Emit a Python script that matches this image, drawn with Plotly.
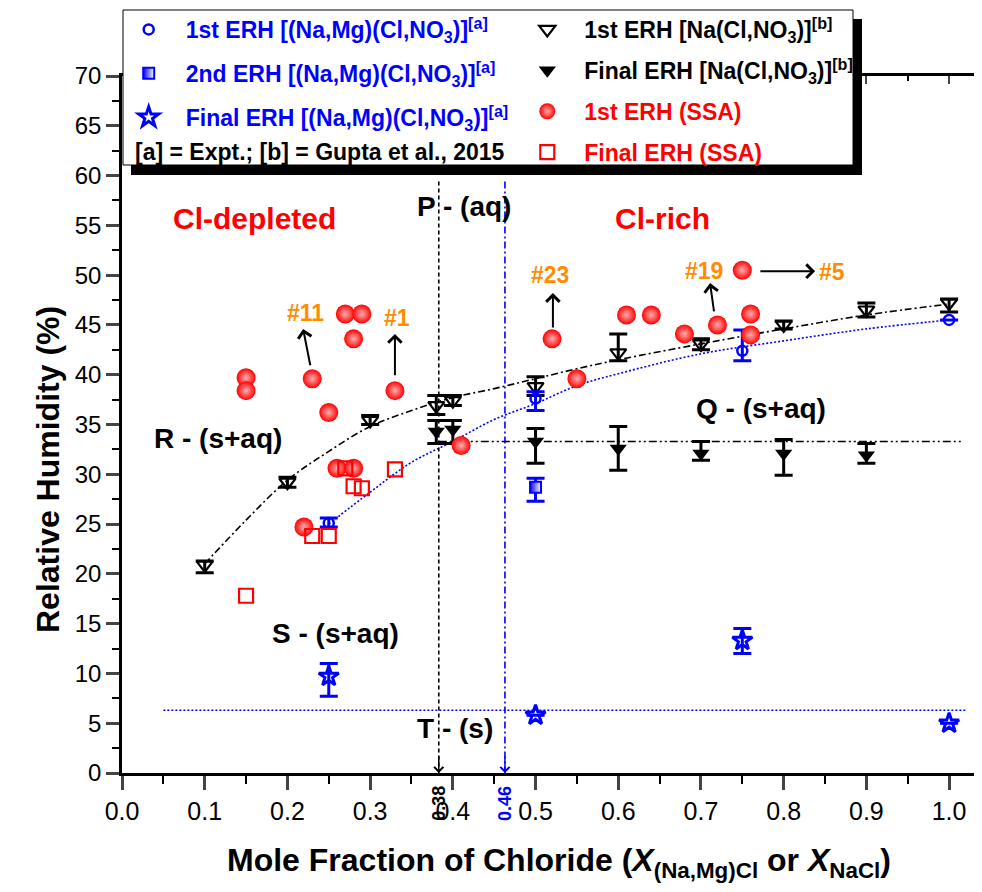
import plotly.graph_objects as go

# ---------------- data ----------------
# (Na,Mg)(Cl,NO3) experimental [a]  (blue)
nm_first_x = [0.25, 0.50, 0.75, 1.00]
nm_first_y = [25.1, 37.6, 42.4, 45.5]
nm_first_ep = [0.5, 0.7, 2.1, None]
nm_first_em = [0.4, 1.2, 1.0, None]

nm_second_x = [0.50]
nm_second_y = [28.7]
nm_second_ep = [0.9]
nm_second_em = [1.4]

nm_final_x = [0.25, 0.50, 0.75, 1.00]
nm_final_y = [9.7, 5.8, 13.3, 5.0]
nm_final_ep = [1.3, None, 1.2, None]
nm_final_em = [2.0, None, 1.3, None]

# Na(Cl,NO3), Gupta et al. 2015 [b]  (black)
na_first_x = [0.10, 0.20, 0.30, 0.38, 0.40, 0.50, 0.60, 0.70, 0.80, 0.90, 1.00]
na_first_y = [20.9, 29.2, 35.4, 36.9, 37.4, 38.8, 42.2, 43.1, 45.0, 46.5, 47.2]
na_first_ep = [0.4, 0.5, 0.5, 1.0, 0.5, 1.0, 1.9, 0.5, 0.4, 0.7, 0.4]
na_first_em = [0.8, 0.5, 0.4, 0.9, 0.5, 0.9, 0.8, 0.6, 0.4, 0.7, 0.9]

na_final_x = [0.38, 0.40, 0.50, 0.60, 0.70, 0.80, 0.90]
na_final_y = [34.3, 34.5, 33.3, 32.6, 32.1, 32.1, 31.9]
na_final_ep = [1.1, 0.9, 1.3, 2.2, 1.2, 1.4, 1.2]
na_final_em = [1.2, 1.4, 2.2, 2.2, 0.7, 2.2, 0.8]

# SSA particles (red)
ssa_first_x = [0.15, 0.15, 0.22, 0.23, 0.25, 0.26, 0.27, 0.28, 0.28, 0.29, 0.33,
               0.41, 0.52, 0.55, 0.61, 0.64, 0.68, 0.72, 0.75, 0.76, 0.76]
ssa_first_y = [39.7, 38.4, 24.7, 39.6, 36.2, 30.6, 46.1, 43.6, 30.6, 46.1, 38.4,
               32.9, 43.6, 39.6, 46.0, 46.0, 44.1, 45.0, 50.5, 46.1, 44.0]
ssa_final_x = [0.15, 0.23, 0.25, 0.27, 0.28, 0.29, 0.33]
ssa_final_y = [17.8, 23.8, 23.8, 30.6, 28.8, 28.6, 30.5]

# guide curves
na_fit_x = [0.10, 0.15, 0.20, 0.25, 0.30, 0.35, 0.40, 0.45, 0.50, 0.55, 0.60, 0.70, 0.80, 0.90, 1.00]
na_fit_y = [21.0, 25.4, 29.4, 32.3, 34.8, 36.4, 37.7, 38.6, 39.6, 40.6, 41.5, 43.1, 44.6, 46.0, 47.1]
nm_fit_x = [0.25, 0.30, 0.35, 0.40, 0.45, 0.50, 0.55, 0.60, 0.70, 0.80, 0.90, 1.00]
nm_fit_y = [25.0, 28.2, 31.2, 33.3, 35.5, 37.1, 38.9, 40.1, 42.1, 43.4, 44.6, 45.5]

# phase-boundary lines
p_line_x = [0.383, 0.383]
p_line_y = [59.4, 0.0]
t_line_x = [0.463, 0.463]
t_line_y = [59.4, 0.0]
q_line_x = [0.383, 1.017]
q_line_y = [33.3, 33.3]
s_line_x = [0.05, 1.02]
s_line_y = [6.3, 6.3]

x_tick_vals = [0.0, 0.1, 0.2, 0.3, 0.4, 0.5, 0.6, 0.7, 0.8, 0.9, 1.0]
y_tick_vals = [0, 5, 10, 15, 20, 25, 30, 35, 40, 45, 50, 55, 60, 65, 70]

# ---------------- styling ----------------
FONT = "Liberation Sans, Arial, sans-serif"
NARROW = "Liberation Sans Narrow, Arial Narrow, Liberation Sans, sans-serif"
BLUE = "#0000ff"
RED = "#ff0000"
ORANGE = "#ff8c00"

fig = go.Figure()

# guide curves & lines
fig.add_trace(go.Scatter(x=na_fit_x, y=na_fit_y, mode="lines", line=dict(color="black", width=1.6, dash="7px,3px,2px,3px", shape="spline"), showlegend=False, hoverinfo="skip"))
fig.add_trace(go.Scatter(x=nm_fit_x, y=nm_fit_y, mode="lines", line=dict(color=BLUE, width=1.6, dash="2px,2px", shape="spline"), showlegend=False, hoverinfo="skip"))
fig.add_trace(go.Scatter(x=q_line_x, y=q_line_y, mode="lines", line=dict(color="black", width=1.6, dash="8px,3px,2px,3px,2px,3px"), showlegend=False, hoverinfo="skip"))
fig.add_trace(go.Scatter(x=s_line_x, y=s_line_y, mode="lines", line=dict(color=BLUE, width=1.6, dash="2px,2px"), showlegend=False, hoverinfo="skip"))
fig.add_trace(go.Scatter(x=p_line_x, y=p_line_y, mode="lines", line=dict(color="black", width=1.6, dash="4px,3px"), showlegend=False, hoverinfo="skip"))
fig.add_trace(go.Scatter(x=t_line_x, y=t_line_y, mode="lines", line=dict(color=BLUE, width=1.6, dash="7px,3px,2px,3px"), showlegend=False, hoverinfo="skip"))

def eb(color, plus, minus):
    return dict(type="data", array=plus, arrayminus=minus, symmetric=False,
                color=color, thickness=3, width=9)

# black (Gupta) series
fig.add_trace(go.Scatter(
    x=na_first_x, y=na_first_y, mode="markers",
    name="1st ERH [Na(Cl,NO<sub>3</sub>)]<sup>[b]</sup>",
    marker=dict(symbol="triangle-down-open", size=14, color="black", line=dict(width=2.2, color="black")),
    error_y=eb("black", na_first_ep, na_first_em), legend="legend2", legendgroup="g4"))
fig.add_trace(go.Scatter(
    x=na_final_x, y=na_final_y, mode="markers",
    name="Final ERH [Na(Cl,NO<sub>3</sub>)]<sup>[b]</sup>",
    marker=dict(symbol="triangle-down", size=15, color="black"),
    error_y=eb("black", na_final_ep, na_final_em), legend="legend2", legendgroup="g5"))

# blue (experiment) series
fig.add_trace(go.Scatter(
    x=nm_first_x, y=nm_first_y, mode="markers",
    name="1st ERH [(Na,Mg)(Cl,NO<sub>3</sub>)]<sup>[a]</sup>",
    marker=dict(symbol="circle-open", size=10, color=BLUE, line=dict(width=2.5, color=BLUE)),
    error_y=eb(BLUE, nm_first_ep, nm_first_em), legend="legend", legendgroup="g1"))
fig.add_trace(go.Scatter(
    x=nm_second_x, y=nm_second_y, mode="markers",
    name="2nd ERH [(Na,Mg)(Cl,NO<sub>3</sub>)]<sup>[a]</sup>",
    marker=dict(symbol="square", size=11, color=BLUE, gradient=dict(type="horizontal", color="white"),
                line=dict(width=2, color=BLUE)),
    error_y=eb(BLUE, nm_second_ep, nm_second_em), legend="legend", legendgroup="g2"))
fig.add_trace(go.Scatter(
    x=nm_final_x, y=nm_final_y, mode="markers",
    name="Final ERH [(Na,Mg)(Cl,NO<sub>3</sub>)]<sup>[a]</sup>",
    marker=dict(symbol="star-open", size=15, color=BLUE, line=dict(width=3, color=BLUE)),
    error_y=eb(BLUE, nm_final_ep, nm_final_em), legend="legend", legendgroup="g3"))

# red (SSA) series
fig.add_trace(go.Scatter(
    x=ssa_first_x, y=ssa_first_y, mode="markers",
    name="<span style='color:#ff0000'>1st ERH (SSA)</span>",
    marker=dict(symbol="circle", size=19, color=RED, gradient=dict(type="radial", color="#ffb0b0"),
                line=dict(width=0)),
    legend="legend2", legendgroup="g6"))
fig.add_trace(go.Scatter(
    x=ssa_final_x, y=ssa_final_y, mode="markers",
    name="<span style='color:#ff0000'>Final ERH (SSA)</span>",
    marker=dict(symbol="square-open", size=14, color=RED, line=dict(width=2.2, color=RED)),
    legend="legend2", legendgroup="g7"))

# dummy trace to host the mirrored (inward-tick) top/right axes
fig.add_trace(go.Scatter(x=[None], y=[None], xaxis="x2", yaxis="y2", showlegend=False, hoverinfo="skip"))

XR = [0, 1.041]
YR = [0, 70]

fig.update_layout(
    width=982, height=892,
    margin=dict(l=114, r=7, t=68, b=127, autoexpand=False),
    plot_bgcolor="white", paper_bgcolor="white",
    font=dict(family=FONT, color="black"),
    xaxis=dict(range=XR, tickvals=x_tick_vals, tickformat=".1f", ticks="outside", ticklen=14, tickwidth=2.5,
               showline=True, linewidth=2.5, linecolor="black", showgrid=False, zeroline=False,
               tickfont=dict(family=NARROW, size=25, color="black"),
               minor=dict(dtick=0.05, tick0=0, ticks="outside", ticklen=8, tickwidth=2, tickcolor="black")),
    yaxis=dict(range=YR, tickvals=y_tick_vals, ticks="outside", ticklen=13, tickwidth=2.5,
               showline=True, linewidth=2.5, linecolor="black", showgrid=False, zeroline=False,
               tickfont=dict(family=FONT, size=24, color="black"),
               minor=dict(dtick=2.5, tick0=0, ticks="outside", ticklen=7, tickwidth=2, tickcolor="black")),
    xaxis2=dict(range=XR, overlaying="x", side="top", anchor="y2", tickvals=x_tick_vals, ticks="inside",
                ticklen=8, tickwidth=2, showticklabels=False, showline=True, linewidth=2.5, linecolor="black",
                showgrid=False, zeroline=False,
                minor=dict(dtick=0.05, tick0=0, ticks="inside", ticklen=5, tickwidth=2, tickcolor="black")),
    yaxis2=dict(range=YR, overlaying="y", side="right", anchor="x2", tickvals=y_tick_vals, ticks="inside",
                ticklen=8, tickwidth=2, showticklabels=False, showline=True, linewidth=2.5, linecolor="black",
                showgrid=False, zeroline=False,
                minor=dict(dtick=2.5, tick0=0, ticks="inside", ticklen=5, tickwidth=2, tickcolor="black")),
    legend=dict(xref="container", yref="container", x=0.1056, y=1.0, xanchor="left", yanchor="top",
                bgcolor="rgba(0,0,0,0)", borderwidth=0,
                font=dict(family=FONT, size=23, color=BLUE, weight="bold"), itemwidth=64,
                tracegroupgap=11, itemclick=False, itemdoubleclick=False),
    legend2=dict(xref="container", yref="container", x=0.5115, y=1.0, xanchor="left", yanchor="top",
                 bgcolor="rgba(0,0,0,0)", borderwidth=0,
                 font=dict(family=FONT, size=23, color="black", weight="bold"), itemwidth=64,
                 tracegroupgap=8, itemclick=False, itemdoubleclick=False),
    showlegend=True,
)

# legend frame with drop shadow (positions given in screen pixels of the picture)
def px2paper_x(px):
    return (px - 122) / 861.0

def px2paper_y(py):
    return (773 - py) / 697.0

fig.add_shape(type="rect", xref="paper", yref="paper", layer="above",
              x0=px2paper_x(131), x1=px2paper_x(862), y0=px2paper_y(175), y1=px2paper_y(19),
              fillcolor="black", line=dict(width=0))
fig.add_shape(type="rect", xref="paper", yref="paper", layer="above",
              x0=px2paper_x(123), x1=px2paper_x(853), y0=px2paper_y(165), y1=px2paper_y(10),
              fillcolor="white", line=dict(width=1, color="black"))

ann = []
ann.append(dict(xref="paper", yref="paper", x=px2paper_x(133), y=px2paper_y(152), xanchor="left", yanchor="middle",
                text="[a] = Expt.; [b] = Gupta et al., 2015", showarrow=False,
                font=dict(family=FONT, size=23, color="black", weight="bold")))

def label(x, y, text, color="black", size=28):
    return dict(xref="x", yref="y", x=x, y=y, text=text, showarrow=False, xanchor="center", yanchor="middle",
                font=dict(family=FONT, size=size, color=color, weight="bold"))

ann += [
    label(0.160, 55.7, "Cl-depleted", RED, 30),
    label(0.653, 55.7, "Cl-rich", RED, 30),
    label(0.413, 56.9, "P - (aq)"),
    label(0.116, 33.6, "R - (s+aq)"),
    label(0.773, 36.6, "Q - (s+aq)"),
    label(0.258, 14.0, "S - (s+aq)"),
    label(0.403, 4.5, "T - (s)"),
    label(0.222, 46.2, "#11", ORANGE, 23),
    label(0.333, 45.7, "#1", ORANGE, 23),
    label(0.518, 50.0, "#23", ORANGE, 23),
    label(0.704, 50.4, "#19", ORANGE, 23),
    label(0.859, 50.3, "#5", ORANGE, 23),
]

def arrow(x, y, ax, ay, color="black"):
    return dict(xref="x", yref="y", axref="x", ayref="y", x=x, y=y, ax=ax, ay=ay, text="",
                showarrow=True, arrowhead=4, arrowsize=1.3, arrowwidth=2, arrowcolor=color)

ann += [
    arrow(0.219, 44.6, 0.228, 40.8),
    arrow(0.330, 44.1, 0.330, 39.8),
    arrow(0.521, 48.2, 0.521, 44.6),
    arrow(0.711, 49.2, 0.716, 46.2),
    arrow(0.838, 50.4, 0.770, 50.4),
]

ann.append(dict(xref="x", yref="y", axref="x", ayref="y", x=0.383, y=0.0, ax=0.383, ay=1.8, text="",
                showarrow=True, arrowhead=4, arrowsize=1.2, arrowwidth=1.5, arrowcolor="black"))
ann.append(dict(xref="x", yref="y", axref="x", ayref="y", x=0.463, y=0.0, ax=0.463, ay=1.8, text="",
                showarrow=True, arrowhead=4, arrowsize=1.2, arrowwidth=1.5, arrowcolor=BLUE))
ann.append(dict(xref="x", yref="paper", x=0.383, y=px2paper_y(803), text="0.38", textangle=-90, showarrow=False,
                xanchor="center", yanchor="middle", font=dict(family=FONT, size=18, color="black", weight="bold")))
ann.append(dict(xref="x", yref="paper", x=0.463, y=px2paper_y(803), text="0.46", textangle=-90, showarrow=False,
                xanchor="center", yanchor="middle", font=dict(family=FONT, size=18, color=BLUE, weight="bold")))

# axis titles
ann.append(dict(xref="paper", yref="paper", x=px2paper_x(559), y=px2paper_y(862), xanchor="center", yanchor="middle",
                text="Mole Fraction of Chloride (<i>X</i><sub>(Na,Mg)Cl</sub> or <i>X</i><sub>NaCl</sub>)",
                showarrow=False, font=dict(family=NARROW, size=32, color="black", weight="bold")))
ann.append(dict(xref="paper", yref="paper", x=px2paper_x(48), y=px2paper_y(470), xanchor="center", yanchor="middle",
                text="Relative Humidity (%)", textangle=-90,
                showarrow=False, font=dict(family=NARROW, size=32, color="black", weight="bold")))

fig.update_layout(annotations=ann)

fig.write_html("out.html")
